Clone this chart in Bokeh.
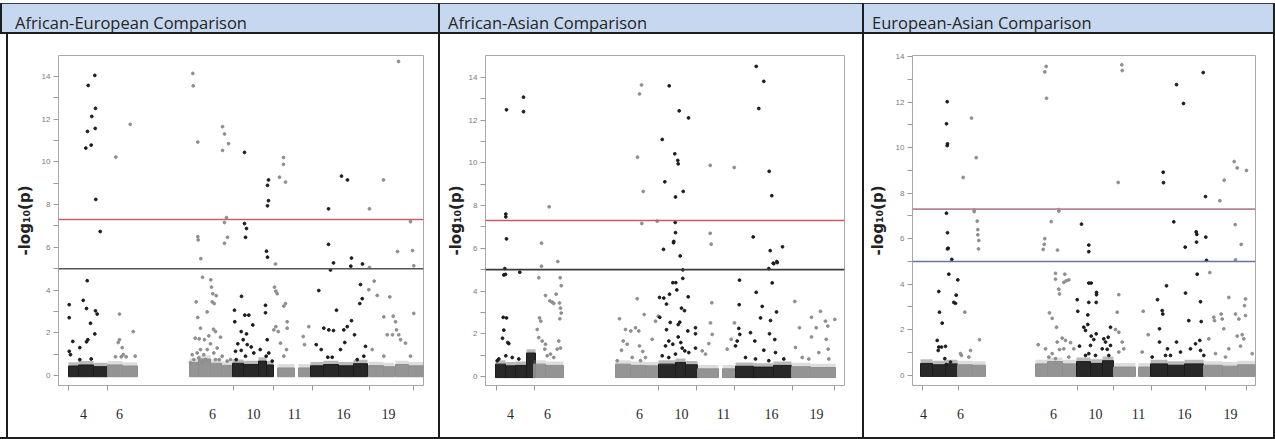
from bokeh.plotting import figure
from bokeh.layouts import column, row
from bokeh.models import Div, Spacer, FixedTicker, Span, Range1d
from bokeh.embed import file_html
from bokeh.resources import INLINE

# ---------------- data ----------------
titles = ["African-European Comparison", "African-Asian Comparison", "European-Asian Comparison"]
chrom_labels = ["4", "6", "6", "10", "11", "16", "19"]
y_major = [0, 2, 4, 6, 8, 10, 12, 14]
y_minor = [1, 3, 5, 7, 9, 11, 13]
genome_wide = 7.3
suggestive = 5.0

# panel 1 : African-European
p1_label_pos = [25, 61, 154, 195, 236, 285, 330]
p1_bounds = [10, 49, 175, 215, 254, 311, 355]
p1_black = [(36.3,14.04),(29.7,13.57),(37,12.5),(33.3,12.12),(36.7,11.56),(29,11.42),(32.7,10.78),(27.3,10.64),(37.3,8.24),(41.7,6.74),(28.7,4.44),
            (10.7,3.32),(10.7,2.71),(14.3,1.6),(21.3,1.31),(10.7,1.14),(12,0.98),(24.7,3.52),(28,3.14),(37,3.03),(38.7,2.88),(32,2.45),(36.3,1.95),(29.3,1.68),(28,1.58),(21.3,0.75),(32.7,0.78),
            (186,10.44),(210,9.15),(209,8.9),(210,8.18),(209,7.94),(186,7.11),(188,6.88),(187,6.47),(208,5.82),(209,5.54),
            (176,3.06),(176.3,2.52),(183,3.71),(186.3,2.83),(190.3,2.83),(194.3,2.37),(182.7,2.06),(188,1.95),(184.7,1.68),(188.7,1.45),(179.3,1.49),(192.7,1.34),(177,1.14),(182.7,1.18),(177.7,0.75),(187,0.91),(195.3,1.06),(201.7,1.22),(207,3.29),(207,2.94),(208.7,1.68),(207.7,0.91),(210.3,1.06),(213.7,0.68),
            (270,7.8),(270,6.14),(275,5.27),(283,9.33),(289,9.15),(293,5.5),(304,5.22),
            (260.3,3.98),(272,4.94),(265.3,2.22),(270.3,2.14),(275,2.11),(257.7,1.45),(262.7,1.22),(269.3,0.86),(273.7,0.86),(278,3.06),(285.3,2.14),(288.7,2.29),(293,2.57),(286.3,1.55),(282,1.22),(292.3,5.12),(296,1.91),(302,4.26),(303.7,3.6),(301.3,3.37),(298.7,0.75),(305.3,0.91),(307,1.37)]
p1_gray = [(71.7,11.75),(57.3,10.22),(134.3,14.13),(134.7,13.55),(139.3,10.92),(139.3,6.5),(139.7,6.35),(142.3,5.47),(164,11.64),(166,11.3),(170,10.85),(164,10.53),(225,10.2),(225,9.88),(221,9.28),(227,9.05),(168,7.39),(166,7.16),(166,6.19),(169,6.47),(311,7.8),(325,9.15),(340,14.69),(352,7.2),(339,5.8),(354,5.85),
           (61,2.88),(61,1.68),(59.7,1.55),(63.7,1.31),(57,0.88),(62.7,0.88),(67.7,0.88),(74.7,2.06),(76.7,0.91),(64.7,0.98),
           (144,4.6),(152.3,4.48),(153,4.14),(154.3,3.83),(157.7,3.74),(153.7,3.45),(137.7,3.45),(155.7,3.37),(148.7,2.98),(139.3,2.72),(142,2.22),(155,2.17),(157,2.06),(162,1.8),(136.7,1.75),(140.7,1.72),(146,1.68),(150.3,1.86),(152,1.49),(142,1.22),(145.3,0.98),(148.7,1.22),(160.7,0.75),(163.7,0.91),(135.3,0.75),(168.7,0.68),(138.7,1.06),(133.7,0.98),(155.3,1.06),(158.7,1.29),(147,0.75),(140.3,0.83),(143.7,0.6),(150.3,0.68),(132,0.6),(157,0.75),(172,0.75),
           (217,5.22),(216,4.14),(217.3,3.95),(218.7,3.83),(215.3,2.14),(217.3,2.29),(219.7,2.06),(225.3,3.25),(227,3.37),(228.7,2.52),(228.7,2.22),(222,1.52),(228,1.22),(225.3,0.91),
           (250.3,2.29),(244.7,1.83),(246,1.45),
           (310.3,4.02),(311,5.06),(315.7,4.42),(318.7,3.75),(325.3,2.75),(331.3,3.68),(328.7,1.91),(334,1.91),(334.7,2.78),(337,2.52),(338,2.14),(340.3,1.91),(342,1.68),(347,1.52),(352,0.91),(355.3,2.91),(355.3,5.14),(313.7,1.22),(325.3,0.91)]
# dense low bands: (start, end, top, is_black)
p1_bands = [(10,20,0.45,1),(20,35,0.5,1),(35,49,0.42,1),(49,64,0.5,0),(64,79,0.45,0),
            (131,140,0.62,0),(140,152,0.78,0),(152,163,0.58,0),(163,174,0.48,0),
            (174,185,0.58,1),(185,200,0.52,1),(200,208,0.68,1),(208,215,0.5,1),
            (219,236,0.36,0),(240,252,0.36,0),
            (252,265,0.46,1),(265,280,0.52,1),(280,295,0.46,1),(295,309,0.56,1),
            (310,325,0.47,0),(325,336,0.42,0),(337,350,0.52,0),(350,365,0.46,0)]

# panel 2 : African-Asian
p2_label_pos = [25, 62, 154, 196, 238, 286, 331]
p2_bounds = [11, 49, 173, 211, 249, 307, 349]
p2_black = [(21,12.48),(38,13.07),(38,12.39),(20.3,7.6),(20.3,7.47),(21,6.44),(34.3,4.88),
            (19.3,5.05),(18.3,4.75),(20,4.78),(17.7,2.77),(21,2.74),(18.3,2.17),(17,1.79),(22.3,1.59),(23.3,1.54),(20.3,0.97),(11.7,0.74),(13.3,0.82),(26.7,0.89),(33.3,0.82),
            (183.7,13.6),(193.7,12.43),(203,12.1),(176.7,11.09),(189.3,10.42),(192.3,10.11),(192.7,9.95),(179.3,9.11),(190,8.4),(197.7,8.66),(189.7,7.21),(190,6.73),(188.3,6.32),(188,6.26),(178,5.95),(194.7,5.64),
            (174,3.7),(174.3,2.77),(178.3,3.67),(181,3.39),(184,3.85),(184.7,2.53),(181,2.19),(183.3,1.66),(187.3,4.39),(190.3,4.39),(191.3,4.05),(192.7,2.43),(194.3,2.54),(196,3.2),(199,3.08),(197.3,4.99),(197.3,4.59),(202.7,3.73),(202.3,2.13),(210,2.28),(210,2.0),(210,1.33),(192.7,1.85),(195.3,1.59),(196.7,1.33),(199.3,1.2),(187.3,1.51),(180,1.43),(190,1.05),(203.3,1.12),(183.3,0.89),(176.7,0.97),
            (270.7,14.51),(278.3,13.81),(273.3,12.54),(283.7,9.6),(286.3,8.46),(267.7,6.53),(284.7,5.89),(287.7,5.3),(291.3,5.38),(297,6.07),
            (254,4.51),(253.7,3.36),(253.3,2.25),(254.3,1.97),(251.7,1.66),(250,1.43),(265,2.05),(270.7,3.94),(276.7,3.28),(275,2.74),(278.3,1.23),(269.3,1.66),(285,2.62),(284,2.0),(289.3,1.73),(291,3.02),(286.7,4.38),(283.3,5.05),(288.3,5.28),(291.7,5.33),(290,1.12),(298.3,0.82),(283.3,0.74),(260,0.89),(270,0.82)]
p2_gray = [(63.7,7.94),(56,6.24),(56,5.16),(72.3,5.38),(53.3,4.62),(60,3.79),(64.3,3.54),(66.7,3.48),(68.3,3.42),(70.7,3.85),(74.7,4.62),(75.7,4.25),(74,3.44),(75,3.2),(75.7,2.97),(74.3,2.7),(54,2.74),(55.3,2.59),(51.7,2.2),(53.3,1.82),(56.7,1.66),(60,1.51),(59.3,1.28),(65,1.05),(73.3,1.66),(71.7,1.28),(75,1.33),(61.7,0.97),(68.3,0.89),
           (154,13.22),(156,13.64),(152,10.26),(157.7,8.66),(156.3,7.16),(171.7,7.27),(134,2.7),(151.7,3.64),(158.7,2.9),(140,2.2),(145.3,2.13),(150,2.28),(153.3,2.13),(137.7,1.66),(136,1.23),(141.7,1.51),(154,1.43),(157.3,1.17),(166.7,1.74),(170,2.59),(172.7,2.82),(146.7,0.89),(160,0.89),(131.7,0.74),(155,0.74),
           (224.7,9.88),(224.7,6.7),(225.7,6.19),(226.3,3.45),(225,2.51),(226.7,1.97),(223.3,1.54),(220,1.05),(216.7,1.2),
           (248.7,9.78),(249,2.51),(245.7,1.74),(241.7,1.28),
           (309.3,3.51),(314,2.28),(310,1.36),(326,2.77),(326,1.85),(330.7,2.28),(335,3.05),(333.3,1.12),(340,2.59),(342.3,2.36),(340.7,1.74),(342.7,1.28),(349.3,2.67),(343.3,0.82),(316.7,0.89),(323.3,0.82)]
p2_bands = [(10,20,0.58,1),(20,30,0.5,1),(30,41,0.52,1),(41,50,1.1,1),
            (48,60,0.58,0),(60,78,0.52,0),
            (130,145,0.58,0),(145,160,0.52,0),(160,173,0.5,0),
            (173,190,0.58,1),(190,200,0.66,1),(200,212,0.55,1),
            (212,233,0.36,0),(237,250,0.36,0),
            (250,268,0.48,1),(268,288,0.44,1),(288,306,0.52,1),
            (306,325,0.46,0),(325,350,0.42,0)]

# panel 3 : European-Asian
p3_label_pos = [11, 48, 141, 183, 226, 272, 318]
p3_bounds = [10, 46, 165, 201, 239, 293, 334]
p3_black = [(34.7,12.02),(34,11.05),(35,10.17),(34.7,10.09),(34,7.12),(35,6.26),(35.7,5.58),(35,5.55),(39.3,5.09),(36.3,4.44),(26.3,3.68),(27,2.77),(29.7,2.29),(24.7,1.53),(26.3,1.24),(29,1.24),(33,1.27),(25.7,1.09),(32.3,0.73),(41.3,3.2),(43.7,3.52),(43,3.16),(45.3,4.19),(33.7,0.47),(38,0.58),
            (169,6.64),(176.3,5.72),(176.3,5.43),(164.7,3.32),(165.3,2.81),(176.3,4.05),(178.7,4.05),(184,3.64),(184,3.54),(183.7,3.2),(176.3,3.2),(175.3,2.65),(171.3,2.11),(173,1.97),(175.3,2.23),(178.7,1.72),(181.3,1.57),(183.7,1.82),(191.3,1.6),(193,1.46),(195.7,1.67),(198,2.11),(189.7,1.16),(194.7,1.14),(198,1.31),(167,1.28),(173,0.87),(178,1.31),(176.3,0.95),(183,0.87),(196.3,0.87),
            (250.7,8.92),(251,8.46),(264,12.77),(271,11.94),(290.7,13.3),(293,7.85),(261.3,6.74),(272.7,5.63),(283.7,6.3),(284.3,6.19),(284,5.85),(293.3,6.07),(294,5.05),
            (245,3.32),(249.7,2.84),(250.3,2.69),(247,2.04),(247,1.46),(254,3.93),(255,1.16),(253,0.87),(264,1.46),(268,1.02),(273,3.61),(276.3,2.4),(278,1.16),(283,1.38),(284.7,4.44),(288,3.23),(288.7,2.36),(287.3,1.53),(288,1.09),(291.3,0.87),(258,0.87),(239.7,0.8)]
p3_gray = [(59,11.3),(63.7,9.56),(50.7,8.69),(61.7,7.26),(61.7,7.19),(64.7,6.77),(65.3,6.4),(65.3,6.17),(66.3,5.92),(66,5.55),(52.3,2.77),(48,0.95),(49,0.87),(58,1.09),(56.3,0.8),(67,1.56),
           (133.7,13.57),(132.3,13.33),(134,12.17),(146.3,7.28),(146.3,7.21),(138.7,6.75),(132.3,6.0),(131.7,5.75),(130.7,5.53),(145,5.5),(143,4.48),(143,4.22),(146.3,3.78),(147,3.57),(151.3,4.08),(153.7,4.15),(156.3,4.19),(152.3,4.44),(137,2.74),(139.7,2.5),(144,2.11),(125.7,1.34),(133,1.16),(139.7,0.95),(144.7,1.46),(147,1.13),(149.7,1.63),(153,1.53),(158,1.43),(151.3,1.16),(161.3,1.16),(156.3,0.8),(136.3,0.8),(143,0.73),
           (209.3,13.64),(209.7,13.39),(205.7,8.47),(206.3,3.54),(204.7,2.77),(203,2.01),(206.3,1.89),(209.7,1.46),(211.3,1.16),(206.3,1.02),
           (230.7,2.81),(235.7,1.78),(229.7,1.02),
           (307.3,7.67),(311.7,8.57),(321.7,9.39),(324.7,9.11),(334,9.0),(322.7,6.62),(328.7,5.75),(323,5.07),(297.3,4.51),(296.3,1.6),(301.3,2.55),(302,2.4),(308.7,2.69),(309.7,2.47),(311.3,2.04),(316.3,3.42),(316.3,1.16),(323,2.69),(326.3,2.47),(324.7,1.72),(329.7,1.78),(331.3,1.6),(333,3.35),(332,3.06),(333,2.62),(328,1.28),(303,0.95),(313,0.8),(339.7,0.95)]
p3_bands = [(8,20,0.52,1),(20,33,0.46,1),(33,45,0.5,1),
            (45,60,0.46,0),(60,73,0.44,0),
            (123,135,0.5,0),(135,150,0.6,0),(150,164,0.5,0),
            (164,178,0.6,1),(178,190,0.52,1),(190,201,0.64,1),
            (201,223,0.36,0),(226,238,0.36,0),
            (238,255,0.5,1),(255,272,0.44,1),(272,291,0.5,1),
            (291,310,0.44,0),(310,325,0.4,0),(325,343,0.46,0)]

# ---------------- styling ----------------
BLACK = "#1c1c1c"
GRAY = "#8e8e8e"
EDGE = "#1e1e1e"


def make_panel(width, xmax, yr, borders, black, gray, bands, label_pos, bounds,
               line_cols, label_standoff):
    left, right, top, bottom = borders
    p = figure(width=width, height=403, title=None, output_backend="svg", toolbar_location=None,
               x_range=Range1d(0, xmax), y_range=Range1d(*yr),
               min_border_left=left, min_border_right=right, min_border_top=top, min_border_bottom=bottom,
               background_fill_color="white", border_fill_color="white",
               outline_line_color="#a8a8a8", outline_line_width=1)
    p.xgrid.visible = False
    p.ygrid.visible = False

    # dense low-significance bands
    for b in bands:
        col = BLACK if b[3] else GRAY
        p.quad(left=[b[0]], right=[b[1]], bottom=[-0.05], top=[b[2]], fill_color=col,
               line_color=col, fill_alpha=0.95, line_width=1)
        # ragged fringe above the dense core
        p.quad(left=[b[0]], right=[b[1]], bottom=[b[2]], top=[b[2] + 0.18], fill_color=col,
               line_color=None, fill_alpha=0.3)

    p.scatter([v[0] for v in gray], [v[1] for v in gray], size=2.8, color=GRAY)
    p.scatter([v[0] for v in black], [v[1] for v in black], size=2.8, color=BLACK)

    p.add_layout(Span(location=genome_wide, dimension="width", line_color=line_cols[0], line_width=1.6))
    p.add_layout(Span(location=suggestive, dimension="width", line_color=line_cols[1], line_width=1.6))

    ya = p.yaxis[0]
    ya.ticker = FixedTicker(ticks=y_major, minor_ticks=y_minor)
    ya.axis_line_color = None
    ya.major_tick_in = 0
    ya.minor_tick_in = 0
    ya.major_tick_out = 5
    ya.minor_tick_out = 5
    ya.major_tick_line_color = "#9a9a9a"
    ya.minor_tick_line_color = "#9a9a9a"
    ya.major_label_text_font = "Liberation Sans"
    ya.major_label_text_font_size = "8px"
    ya.major_label_text_color = "#7a7a7a"
    ya.major_label_standoff = 3
    ya.axis_label = "-log₁₀(p)"
    ya.axis_label_text_font = "DejaVu Sans"
    ya.axis_label_text_font_style = "bold"
    ya.axis_label_text_font_size = "15px"
    ya.axis_label_text_color = "#222222"
    ya.axis_label_standoff = label_standoff

    xa = p.xaxis[0]
    xa.ticker = FixedTicker(ticks=label_pos, minor_ticks=bounds)
    xa.major_label_overrides = {pos: lab for pos, lab in zip(label_pos, chrom_labels)}
    xa.axis_line_color = None
    xa.major_tick_in = 0
    xa.major_tick_out = 0
    xa.minor_tick_in = 0
    xa.minor_tick_out = 5
    xa.minor_tick_line_color = "#9a9a9a"
    xa.major_label_standoff = 18
    xa.major_label_text_font = "Liberation Serif"
    xa.major_label_text_font_size = "14px"
    xa.major_label_text_color = "#2a2a2a"
    return p


p1 = make_panel(430, 365, (-0.46, 14.97), (50, 15, 18, 51), p1_black, p1_gray, p1_bands,
                p1_label_pos, p1_bounds, ("#c9606a", "#555555"), 5)
p2 = make_panel(422, 359, (-0.42, 15.02), (45, 18, 17, 52), p2_black, p2_gray, p2_bands,
                p2_label_pos, p2_bounds, ("#c45c66", "#3a3a3a"), 1)
p3 = make_panel(409, 343, (-0.45, 14.05), (48, 18, 21, 50), p3_black, p3_gray, p3_bands,
                p3_label_pos, p3_bounds, ("#b9838f", "#6b72a6"), 6)

title_x = [15, 448, 872]
header_html = (
    '<div style="position:relative;width:1275px;height:34px;font-family:\'Open Sans\';">'
    '<div style="position:absolute;left:0;top:3px;width:1275px;height:31px;box-sizing:border-box;'
    'background:#c6d8ef;border-top:1px solid #3a3a3a;border-bottom:2px solid #1e1e1e;'
    'border-left:2px solid #1e1e1e;border-right:2px solid #1e1e1e;"></div>'
    '<div style="position:absolute;left:438px;top:3px;width:2px;height:31px;background:#1e1e1e;"></div>'
    '<div style="position:absolute;left:862px;top:3px;width:2px;height:31px;background:#1e1e1e;"></div>'
)
for tx, t in zip(title_x, titles):
    header_html += (f'<div style="position:absolute;left:{tx}px;top:13px;font-size:16.5px;line-height:20px;'
                    f'color:#262626;white-space:nowrap;">{t}</div>')
header_html += '</div>'

header = Div(text=header_html, width=1275, height=34, margin=0)


def bar(w, h, color):
    return Spacer(width=w, height=h, margin=0, styles={"background-color": color})


body = row(bar(6, 403, "#ffffff"), bar(2, 403, EDGE), p1, bar(2, 403, EDGE), p2, bar(2, 403, EDGE), p3,
           bar(2, 403, EDGE), spacing=0)
layout = column(header, body, bar(1275, 2, EDGE), spacing=0)

open("out.html", "w").write(file_html(layout, INLINE, title="Manhattan comparisons"))
